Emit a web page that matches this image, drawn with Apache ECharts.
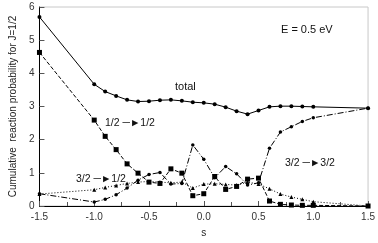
<!DOCTYPE html>
<html><head><meta charset="utf-8">
<script src="https://cdn.jsdelivr.net/npm/echarts@6/dist/echarts.min.js"></script>
<style>html,body{margin:0;padding:0;background:#fff}#c{width:378px;height:243px}</style>
</head><body><div id="c"></div>
<script>
const sValues = [-1.5,-1.0,-0.9,-0.8,-0.7,-0.6,-0.5,-0.4,-0.3,-0.2,-0.1,0.0,0.1,0.2,0.3,0.4,0.5,0.6,0.7,0.8,0.9,1.0,1.5];
const total      = [5.70,3.67,3.45,3.32,3.20,3.15,3.16,3.19,3.20,3.17,3.13,3.11,3.07,2.98,2.86,2.77,2.88,2.99,3.01,3.01,3.00,2.99,2.95];
const half2half  = [4.63,2.59,2.10,1.70,1.27,0.99,0.72,0.68,1.12,0.99,0.31,0.37,0.89,0.50,0.59,0.81,0.84,0.15,0.05,0.03,0.02,0.02,0.00];
const t32to12    = [0.36,0.49,0.56,0.62,0.68,0.72,0.74,0.72,0.70,0.72,0.54,0.66,0.67,0.65,0.63,0.72,0.66,0.52,0.36,0.27,0.20,0.13,0.00];
const t32to32    = [0.37,0.12,0.20,0.34,0.54,0.78,0.95,1.01,0.66,0.68,1.84,1.41,0.85,1.19,0.97,0.63,0.70,1.74,2.23,2.39,2.55,2.66,2.95];
const xTicks = [-1.5,-1.0,-0.5,0.0,0.5,1.0,1.5];
const yTicks = [0,1,2,3,4,5,6];

const pairs = arr => sValues.map((s,i)=>[s,arr[i]]);
const chart = echarts.init(document.getElementById('c'));
const lbl = {color:'#333', fontSize:10, fontFamily:'Liberation Sans, Arial, sans-serif'};
const axisCommon = {
  axisLine:{show:true,onZero:false,lineStyle:{color:'#000',width:1}},
  axisTick:{show:true,inside:true,length:5,lineStyle:{color:'#555'}},
  splitLine:{show:false},
  nameTextStyle:{color:'#222',fontSize:10,fontFamily:'Liberation Sans, Arial, sans-serif'}
};
const mk = (name, arr, symbol, size, type) => ({
  name, type:'line', data:pairs(arr), symbol, symbolSize:size,
  lineStyle:{color:'#000',width:1,type}, itemStyle:{color:'#000'},
  animation:false, z:3
});
const txt = (x,y,text,size) => ({type:'text',left:x,top:y,style:{text,fill:'#111',fontSize:size||11,fontFamily:'Liberation Sans, Arial, sans-serif'}});
chart.setOption({
  animation:false,
  grid:{left:38,right:8,top:7,bottom:29.5,show:true,borderColor:'#c8c8c8',borderWidth:1},
  xAxis:Object.assign({}, axisCommon, {
    type:'value', min:xTicks[0], max:xTicks[xTicks.length-1], interval:0.5,
    name:'s', nameLocation:'middle', nameGap:22,
    minorTick:{show:true,splitNumber:2,length:4,lineStyle:{color:'#555'}},
    axisLabel:Object.assign({}, lbl, {margin:6, formatter:v=>v.toFixed(1)})
  }),
  yAxis:Object.assign({}, axisCommon, {
    type:'value', min:yTicks[0], max:yTicks[yTicks.length-1], interval:1,
    name:'Cumulative  reaction probability for J=1/2', nameLocation:'middle', nameGap:21,
    axisLabel:Object.assign({}, lbl, {margin:5})
  }),
  series:[
    mk('total', total, 'circle', 4, 'solid'),
    mk('1/2 → 1/2', half2half, 'rect', 5, [4,2]),
    mk('3/2 → 1/2', t32to12, 'triangle', 4, [1,2]),
    mk('3/2 → 3/2', t32to32, 'circle', 3.5, [6,2,1,2])
  ],
  graphic:[
    txt(281,24,'E = 0.5 eV',11),
    txt(175,81,'total',11),
    txt(105,118,'1/2 \u2500\u25BA1/2',10.5),
    txt(76,174,'3/2 \u2500\u25BA1/2',10.5),
    txt(285,158,'3/2 \u2500\u25BA3/2',10.5)
  ]
});
</script></body></html>
